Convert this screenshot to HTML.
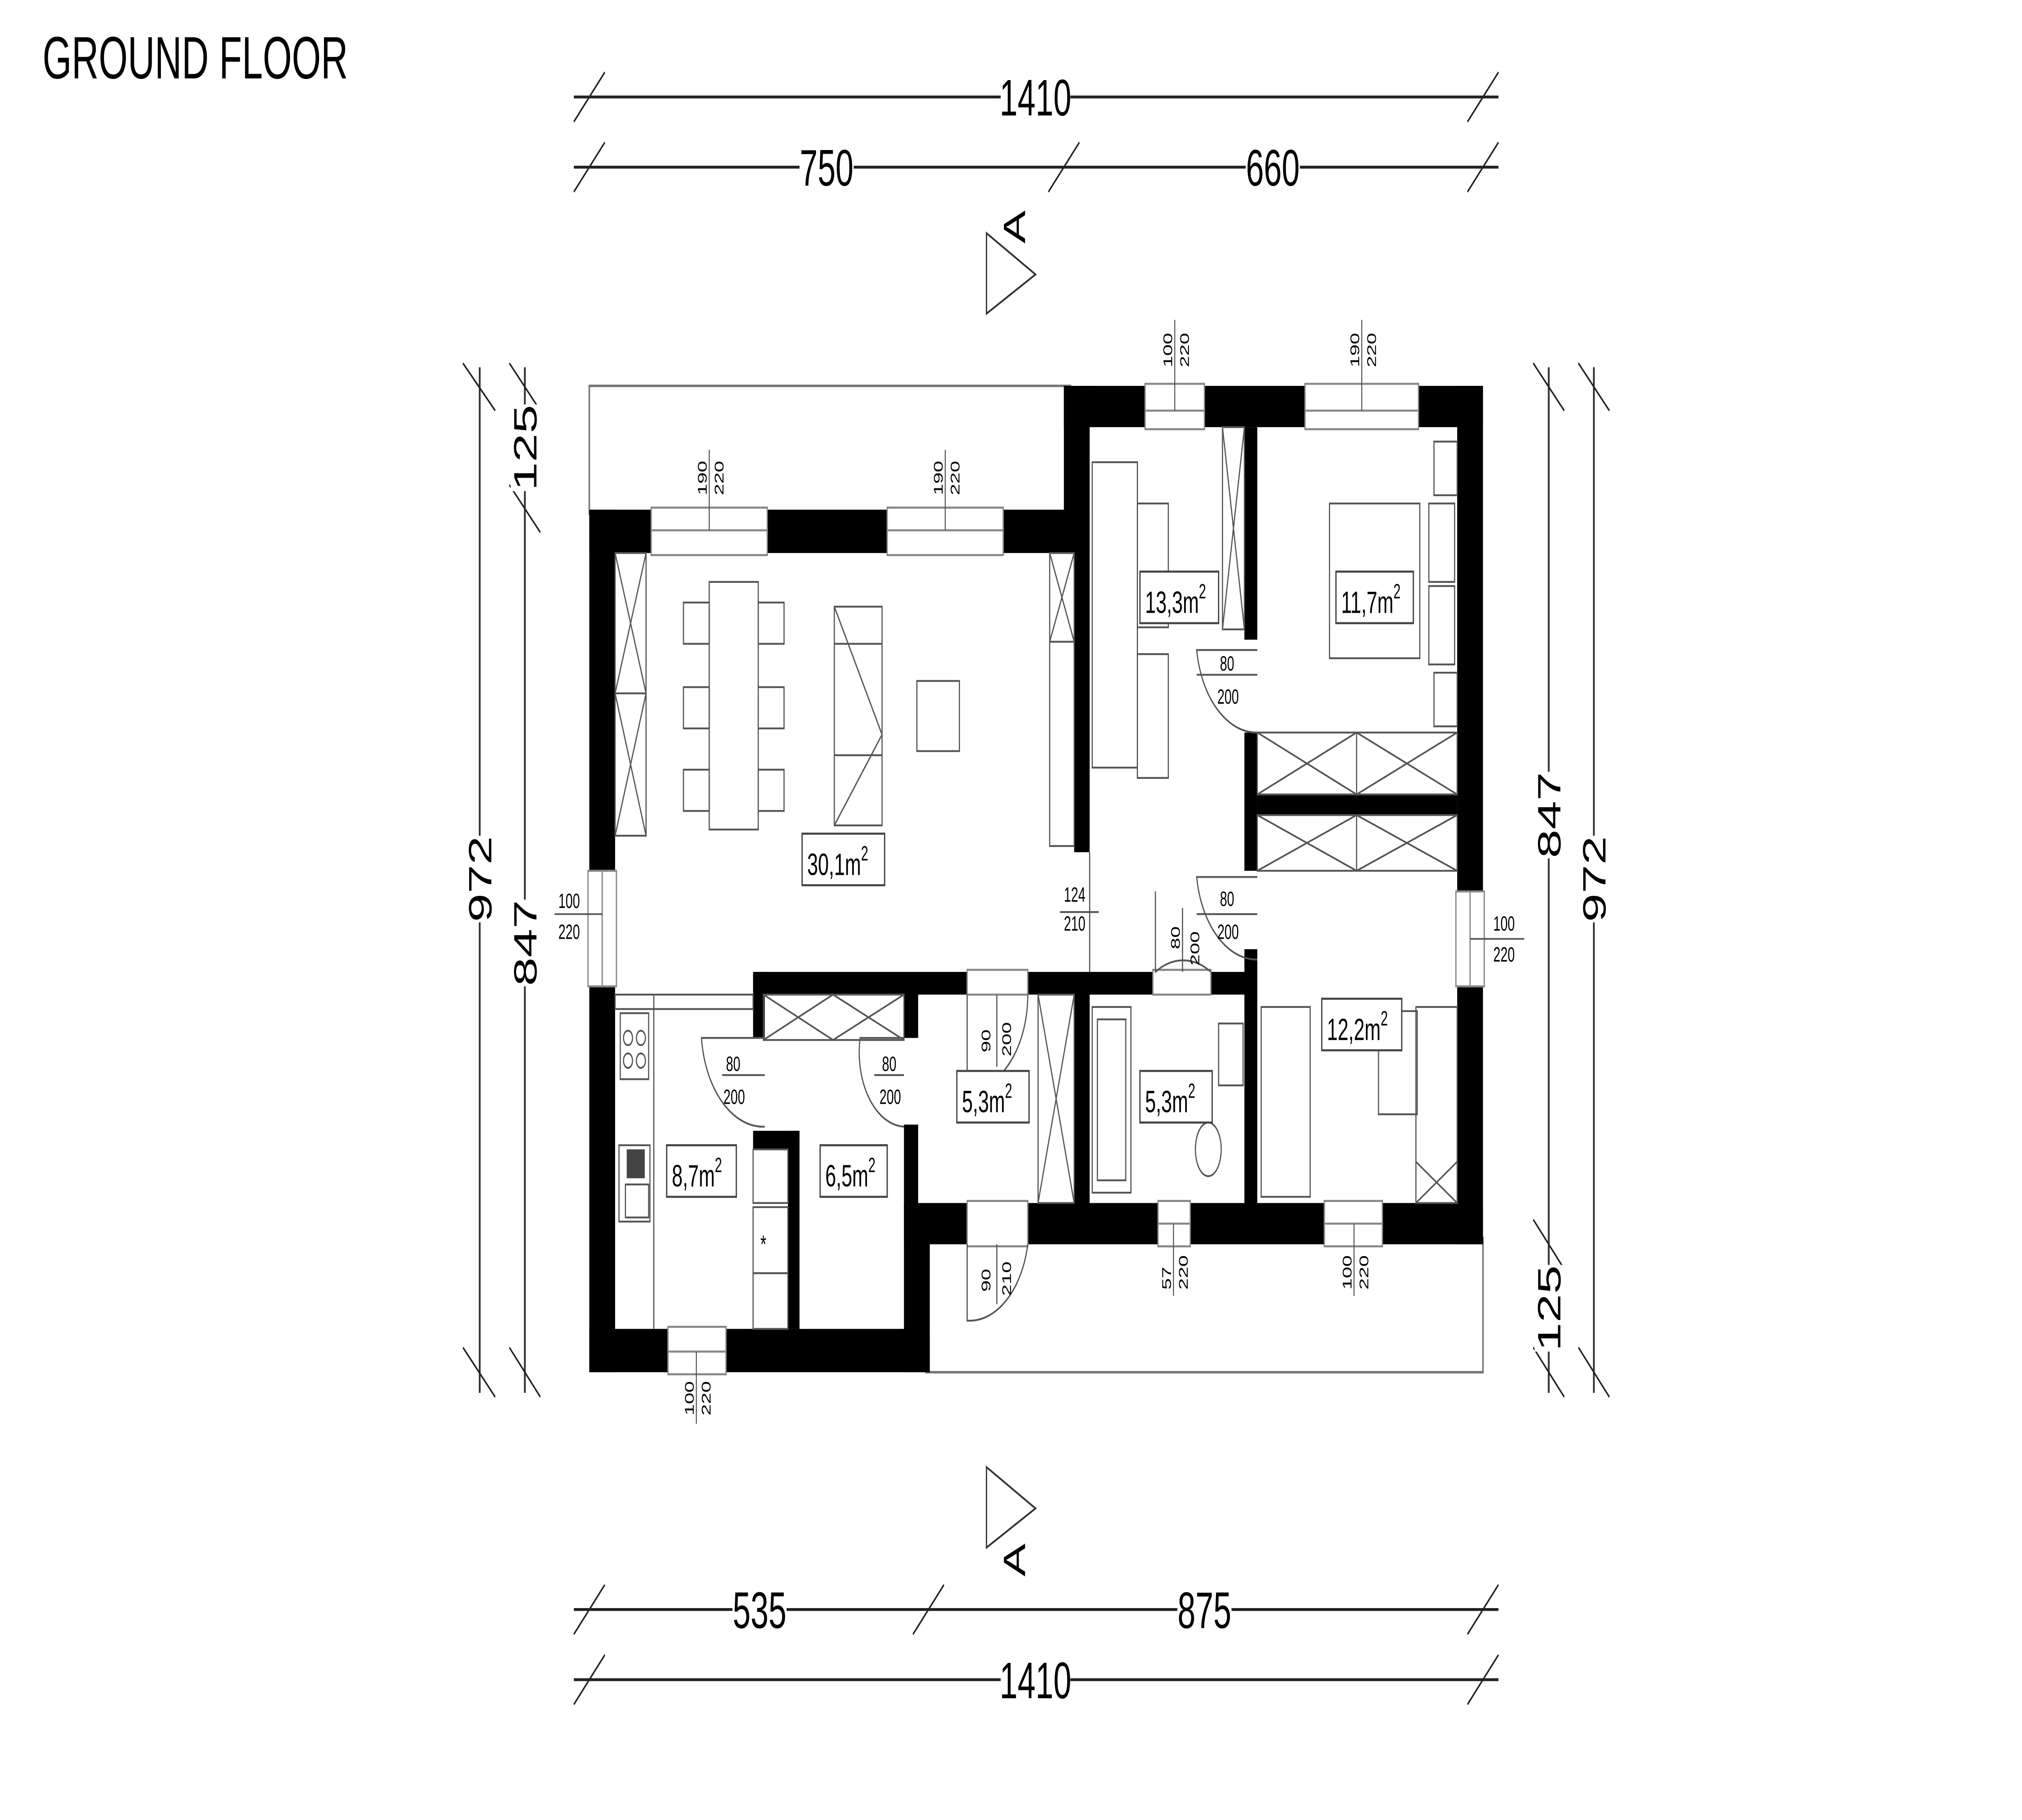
<!DOCTYPE html>
<html><head><meta charset="utf-8"><style>
html,body{margin:0;padding:0;background:#fff;width:100%;height:100%;overflow:hidden;}
svg{display:block;position:absolute;left:0;top:0;width:100vw;height:100vh;}
text{font-family:"Liberation Sans",sans-serif;fill:#000;}
</style></head><body>
<svg viewBox="0 0 1568 882" preserveAspectRatio="none" xmlns="http://www.w3.org/2000/svg">
<rect width="1568" height="882" fill="#fff"/>
<text x="33" y="38" font-size="29">GROUND FLOOR</text>

<g stroke="#222" stroke-width="1.4" fill="none">
<line x1="445" y1="47" x2="1162" y2="47"/>
<line x1="445" y1="81" x2="1162" y2="81"/>
<line x1="445" y1="780" x2="1162" y2="780"/>
<line x1="445" y1="814" x2="1162" y2="814"/>
</g>
<g stroke="#222" stroke-width="1" fill="none">
<line x1="445" y1="59" x2="469" y2="35"/><line x1="1138" y1="59" x2="1162" y2="35"/>
<line x1="445" y1="93" x2="469" y2="69"/><line x1="813" y1="93" x2="837" y2="69"/><line x1="1138" y1="93" x2="1162" y2="69"/>
<line x1="445" y1="792" x2="469" y2="768"/><line x1="708" y1="792" x2="732" y2="768"/><line x1="1138" y1="792" x2="1162" y2="768"/>
<line x1="445" y1="826" x2="469" y2="802"/><line x1="1138" y1="826" x2="1162" y2="802"/>
</g>
<g font-size="25" text-anchor="middle">
<rect x="776" y="34" width="54" height="26" fill="#fff"/><text x="803" y="56">1410</text>
<rect x="620" y="68" width="42" height="26" fill="#fff"/><text x="641" y="90">750</text>
<rect x="966" y="68" width="42" height="26" fill="#fff"/><text x="987" y="90">660</text>
<rect x="568" y="767" width="42" height="26" fill="#fff"/><text x="589" y="789">535</text>
<rect x="913" y="767" width="42" height="26" fill="#fff"/><text x="934" y="789">875</text>
<rect x="776" y="801" width="54" height="26" fill="#fff"/><text x="803" y="823">1410</text>
</g>

<g stroke="#333" stroke-width="1.4">
<line x1="372" y1="178" x2="372" y2="675"/>
<line x1="407" y1="178" x2="407" y2="675"/>
<line x1="1201" y1="178" x2="1201" y2="675"/>
<line x1="1236" y1="178" x2="1236" y2="675"/>
</g>
<g stroke="#222" stroke-width="1">
<line x1="359" y1="176" x2="384" y2="199"/><line x1="359" y1="653" x2="384" y2="677"/>
<line x1="395" y1="176" x2="419" y2="199"/><line x1="395" y1="235" x2="419" y2="258"/><line x1="395" y1="653" x2="419" y2="677"/>
<line x1="1189" y1="176" x2="1213" y2="199"/><line x1="1189" y1="591" x2="1213" y2="615"/><line x1="1189" y1="653" x2="1213" y2="677"/>
<line x1="1224" y1="176" x2="1248" y2="199"/><line x1="1224" y1="653" x2="1248" y2="677"/>
</g>
<g font-size="25" text-anchor="middle">
<g transform="translate(381,426) rotate(-90)"><rect x="-21" y="-20" width="42" height="26" fill="#fff"/><text x="0" y="0">972</text></g>
<g transform="translate(416,457) rotate(-90)"><rect x="-21" y="-20" width="42" height="26" fill="#fff"/><text x="0" y="0">847</text></g>
<g transform="translate(416,217) rotate(-90)"><rect x="-21" y="-20" width="42" height="26" fill="#fff"/><text x="0" y="0">125</text></g>
<g transform="translate(1210,395) rotate(-90)"><rect x="-21" y="-20" width="42" height="26" fill="#fff"/><text x="0" y="0">847</text></g>
<g transform="translate(1210,634) rotate(-90)"><rect x="-21" y="-20" width="42" height="26" fill="#fff"/><text x="0" y="0">125</text></g>
<g transform="translate(1245,426) rotate(-90)"><rect x="-21" y="-20" width="42" height="26" fill="#fff"/><text x="0" y="0">972</text></g>
</g>

<polygon points="765,113 803,133 765,152" fill="none" stroke="#333" stroke-width="1"/>
<text font-size="24" transform="translate(795,118) rotate(-90)">A</text>
<polygon points="765,711 803,731 765,750" fill="none" stroke="#333" stroke-width="1"/>
<text font-size="24" transform="translate(795,764) rotate(-90)">A</text>

<g fill="none" stroke="#777" stroke-width="1.2">
<rect x="457" y="187" width="373" height="62"/>
<rect x="718" y="600" width="432" height="65"/>
</g>

<g fill="#000">
<rect x="457" y="247" width="20" height="418"/>
<rect x="457" y="247" width="388" height="21"/>
<rect x="825" y="187" width="20" height="81"/>
<rect x="833" y="268" width="12" height="145"/>
<rect x="825" y="187" width="325" height="20"/>
<rect x="1130" y="187" width="20" height="416"/>
<rect x="965" y="207" width="10" height="103"/>
<rect x="965" y="355" width="10" height="67"/>
<rect x="965" y="460" width="10" height="123"/>
<rect x="975" y="385" width="155" height="10"/>
<rect x="584" y="471" width="166" height="11"/>
<rect x="797" y="471" width="97" height="11"/>
<rect x="939" y="471" width="34" height="11"/>
<rect x="584" y="471" width="9" height="32"/>
<rect x="584" y="548" width="36" height="9"/>
<rect x="611" y="548" width="9" height="96"/>
<rect x="701" y="481" width="11" height="22"/>
<rect x="701" y="545" width="11" height="40"/>
<rect x="701" y="583" width="20" height="82"/>
<rect x="833" y="481" width="12" height="102"/>
<rect x="701" y="583" width="449" height="20"/>
<rect x="457" y="644" width="264" height="21"/>
</g>

<g fill="#fff" stroke="#888" stroke-width="1">
<rect x="505" y="246" width="90" height="23"/><line x1="505" y1="257" x2="595" y2="257"/>
<rect x="688" y="246" width="90" height="23"/><line x1="688" y1="257" x2="778" y2="257"/>
<rect x="888" y="186" width="46" height="22"/><line x1="888" y1="199" x2="934" y2="199"/>
<rect x="1012" y="186" width="88" height="22"/><line x1="1012" y1="199" x2="1100" y2="199"/>
<rect x="456" y="422" width="22" height="56"/><line x1="467" y1="422" x2="467" y2="478"/>
<rect x="1129" y="432" width="22" height="46"/><line x1="1140" y1="432" x2="1140" y2="478"/>
<rect x="518" y="643" width="45" height="23"/><line x1="518" y1="655" x2="563" y2="655"/>
<rect x="898" y="582" width="25" height="22"/><line x1="898" y1="593" x2="923" y2="593"/>
<rect x="1027" y="582" width="45" height="22"/><line x1="1027" y1="593" x2="1072" y2="593"/>
<rect x="750" y="582" width="47" height="22"/>
<rect x="750" y="470" width="47" height="12"/>
<rect x="894" y="470" width="45" height="12"/>
</g>

<g stroke="#555" stroke-width="0.8">
<line x1="550" y1="218" x2="550" y2="257"/><line x1="733" y1="218" x2="733" y2="257"/>
<line x1="911" y1="155" x2="911" y2="199"/><line x1="1056" y1="155" x2="1056" y2="199"/>
<line x1="430" y1="443" x2="467" y2="443"/><line x1="1140" y1="455" x2="1182" y2="455"/>
<line x1="540" y1="655" x2="540" y2="690"/><line x1="910" y1="593" x2="910" y2="628"/><line x1="1050" y1="593" x2="1050" y2="628"/>
</g>
<g font-size="10">
<text transform="translate(548,240) rotate(-90)">190</text><text transform="translate(561,240) rotate(-90)">220</text>
<text transform="translate(731,240) rotate(-90)">190</text><text transform="translate(744,240) rotate(-90)">220</text>
<text transform="translate(909,178) rotate(-90)">100</text><text transform="translate(922,178) rotate(-90)">220</text>
<text transform="translate(1054,178) rotate(-90)">190</text><text transform="translate(1067,178) rotate(-90)">220</text>
<text x="433" y="440">100</text><text x="433" y="455">220</text>
<text x="1158" y="451">100</text><text x="1158" y="466">220</text>
<text transform="translate(538,686) rotate(-90)">100</text><text transform="translate(551,686) rotate(-90)">220</text>
<text transform="translate(908,625) rotate(-90)">57</text><text transform="translate(921,625) rotate(-90)">220</text>
<text transform="translate(1048,625) rotate(-90)">100</text><text transform="translate(1061,625) rotate(-90)">220</text>
</g>

<g fill="none" stroke="#555" stroke-width="0.9">
<path d="M975 315 L928 315 A47 47 0 0 0 975 355"/><line x1="928" y1="327" x2="975" y2="327"/>
<path d="M975 425 L928 425 A47 47 0 0 0 975 465"/><line x1="928" y1="443" x2="975" y2="443"/>
<path d="M593 503 L544 503 A48 48 0 0 0 593 546"/><line x1="560" y1="521" x2="593" y2="521"/>
<path d="M701 503 L667 503 A36 36 0 0 0 701 546"/><line x1="678" y1="521" x2="701" y2="521"/>
<path d="M750 482 L750 528 A46 46 0 0 0 797 482"/><line x1="773" y1="482" x2="773" y2="517"/>
<path d="M750 603 L750 640 A46 46 0 0 0 797 603"/><line x1="773" y1="603" x2="773" y2="632"/>
<path d="M896 432 L896 471 A44 44 0 0 1 939 471"/><line x1="917" y1="440" x2="917" y2="471"/>
<line x1="845" y1="413" x2="845" y2="471"/><line x1="822" y1="442" x2="852" y2="442"/>
</g>
<g font-size="10">
<text x="946" y="325">80</text><text x="944" y="341">200</text>
<text x="946" y="439">80</text><text x="944" y="455">200</text>
<text x="563" y="519">80</text><text x="561" y="535">200</text>
<text x="684" y="519">80</text><text x="682" y="535">200</text>
<text x="825" y="437">124</text><text x="825" y="451">210</text>
<text transform="translate(768,510) rotate(-90)">90</text><text transform="translate(784,512) rotate(-90)">200</text>
<text transform="translate(768,626) rotate(-90)">90</text><text transform="translate(784,628) rotate(-90)">210</text>
<text transform="translate(915,460) rotate(-90)">80</text><text transform="translate(930,468) rotate(-90)">200</text>
</g>

<g fill="none" stroke="#555" stroke-width="0.9">
<rect x="477" y="268" width="24" height="137"/><path d="M477 268 L501 336 L477 405 M501 268 L477 336 L501 405 M477 336 L501 336"/>
<rect x="814" y="268" width="19" height="43"/><path d="M814 268 L833 311 M833 268 L814 311"/>
<rect x="814" y="311" width="19" height="99"/>
<rect x="550" y="282" width="38" height="120"/>
<rect x="530" y="292" width="20" height="20"/><rect x="588" y="292" width="20" height="20"/>
<rect x="530" y="333" width="20" height="20"/><rect x="588" y="333" width="20" height="20"/>
<rect x="530" y="373" width="20" height="20"/><rect x="588" y="373" width="20" height="20"/>
<rect x="647" y="294" width="37" height="106"/><path d="M647 294 L684 356 M647 400 L684 356 M647 312 L684 312 M647 366 L684 366"/>
<rect x="711" y="330" width="33" height="34"/>
<rect x="847" y="224" width="35" height="148"/>
<rect x="882" y="244" width="24" height="60"/><rect x="882" y="317" width="24" height="60"/>
<rect x="948" y="207" width="17" height="98"/><path d="M948 207 L965 305 M965 207 L948 305"/>
<rect x="975" y="355" width="155" height="30"/><path d="M975 355 L1052 385 M1052 355 L975 385 M1052 355 L1130 385 M1130 355 L1052 385 M1052 355 L1052 385"/>
<rect x="975" y="395" width="155" height="27"/><path d="M975 395 L1052 422 M1052 395 L975 422 M1052 395 L1130 422 M1130 395 L1052 422 M1052 395 L1052 422"/>
<rect x="1031" y="244" width="70" height="75"/>
<rect x="1108" y="244" width="20" height="38"/><rect x="1108" y="284" width="20" height="38"/>
<rect x="1112" y="214" width="18" height="26"/><rect x="1112" y="326" width="18" height="26"/>
<rect x="592" y="482" width="109" height="22"/><path d="M592 482 L646 504 M646 482 L592 504 M646 482 L701 504 M701 482 L646 504"/>
<rect x="477" y="482" width="107" height="7"/>
<line x1="507" y1="482" x2="507" y2="644"/>
<rect x="481" y="491" width="22" height="32"/>
<circle cx="487" cy="503" r="3.5"/><circle cx="497" cy="503" r="3.5"/><circle cx="487" cy="514" r="3.5"/><circle cx="497" cy="514" r="3.5"/>
<rect x="480" y="555" width="24" height="37"/><rect x="485" y="574" width="18" height="16"/>
<rect x="584" y="557" width="27" height="26"/><rect x="584" y="585" width="27" height="32"/><rect x="584" y="617" width="27" height="27"/>
<rect x="805" y="482" width="28" height="101"/><path d="M805 482 L833 583 M833 482 L805 583"/>
<rect x="847" y="488" width="30" height="90"/><rect x="851" y="494" width="22" height="78"/>
<rect x="945" y="496" width="19" height="30"/>
<ellipse cx="937" cy="557" rx="10" ry="13"/>
<rect x="978" y="488" width="38" height="92"/>
<rect x="1069" y="490" width="30" height="50"/>
<rect x="1098" y="488" width="32" height="95"/><path d="M1098 563 L1130 583 M1130 563 L1098 583"/>
</g>
<rect x="486" y="557" width="14" height="14" fill="#444"/>
<text x="592" y="607" font-size="12" text-anchor="middle">*</text>

<g fill="#fff" stroke="#444" stroke-width="1">
<rect x="622" y="404" width="64" height="25"/>
<rect x="884" y="277" width="61" height="25"/>
<rect x="1036" y="277" width="60" height="25"/>
<rect x="1025" y="484" width="62" height="25"/>
<rect x="517" y="555" width="54" height="25"/>
<rect x="636" y="555" width="52" height="25"/>
<rect x="742" y="519" width="56" height="25"/>
<rect x="884" y="519" width="56" height="25"/>
</g>
<g font-size="15">
<text x="626" y="424">30,1m<tspan font-size="10" dy="-7">2</tspan></text>
<text x="888" y="297">13,3m<tspan font-size="10" dy="-7">2</tspan></text>
<text x="1040" y="297">11,7m<tspan font-size="10" dy="-7">2</tspan></text>
<text x="1029" y="504">12,2m<tspan font-size="10" dy="-7">2</tspan></text>
<text x="521" y="575">8,7m<tspan font-size="10" dy="-7">2</tspan></text>
<text x="640" y="575">6,5m<tspan font-size="10" dy="-7">2</tspan></text>
<text x="746" y="539">5,3m<tspan font-size="10" dy="-7">2</tspan></text>
<text x="888" y="539">5,3m<tspan font-size="10" dy="-7">2</tspan></text>
</g>
</svg>
</body></html>
